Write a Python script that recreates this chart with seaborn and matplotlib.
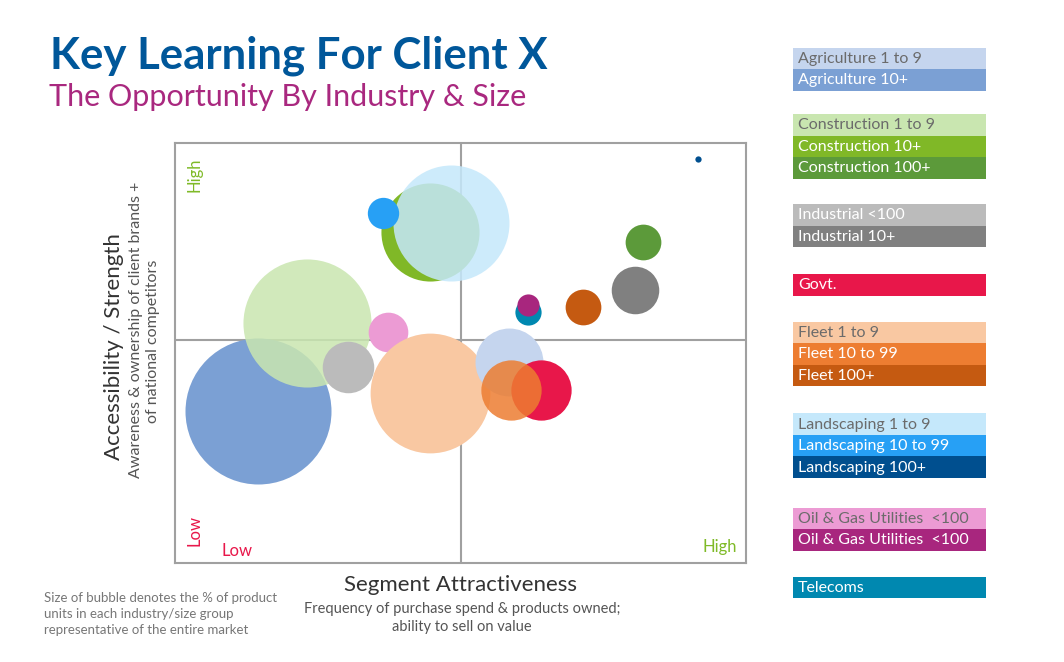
import matplotlib.pyplot as plt
import matplotlib.patches as mpatches
import pandas as pd
import seaborn as sns

# bubbles, listed in drawing order (back to front)
segments = [
    "Agriculture 10+", "Construction 1 to 9", "Industrial <100", "Oil & Gas Utilities <100 (a)",
    "Fleet 1 to 9", "Construction 10+", "Landscaping 1 to 9", "Landscaping 10 to 99",
    "Agriculture 1 to 9", "Govt.", "Fleet 10 to 99", "Construction 100+", "Industrial 10+",
    "Fleet 100+", "Telecoms", "Oil & Gas Utilities <100 (b)", "Landscaping 100+",
]
attractiveness = [1.45, 2.32, 3.03, 3.73, 4.47, 4.47, 4.83, 3.65, 5.85, 6.41, 5.89, 8.20, 8.06, 7.14, 6.18, 6.19, 9.16]
accessibility = [3.61, 5.72, 4.66, 5.51, 4.04, 7.88, 8.09, 8.34, 4.79, 4.11, 4.11, 7.65, 6.50, 6.10, 5.97, 6.14, 9.63]
unit_share = [21.7, 16.7, 2.7, 1.6, 14.6, 9.8, 13.7, 1.0, 4.7, 3.7, 3.7, 1.3, 2.3, 1.3, 0.7, 0.5, 0.04]

# legend (right-hand key), grouped by industry
legend_groups = [
    ["Agriculture 1 to 9", "Agriculture 10+"],
    ["Construction 1 to 9", "Construction 10+", "Construction 100+"],
    ["Industrial <100", "Industrial 10+"],
    ["Govt."],
    ["Fleet 1 to 9", "Fleet 10 to 99", "Fleet 100+"],
    ["Landscaping 1 to 9", "Landscaping 10 to 99", "Landscaping 100+"],
    ["Oil & Gas Utilities  <100", "Oil & Gas Utilities  <100"],
    ["Telecoms"],
]

# styles
seg_colors = {
    "Agriculture 1 to 9": "#C5D5EE", "Agriculture 10+": "#7BA0D4",
    "Construction 1 to 9": "#C9E6B0", "Construction 10+": "#80B827", "Construction 100+": "#5C9A3A",
    "Industrial <100": "#BBBBBB", "Industrial 10+": "#808080",
    "Govt.": "#E8174A",
    "Fleet 1 to 9": "#F9C8A2", "Fleet 10 to 99": "#ED7D31", "Fleet 100+": "#C55A11",
    "Landscaping 1 to 9": "#C5E8FB", "Landscaping 10 to 99": "#27A0F5", "Landscaping 100+": "#004F8F",
    "Oil & Gas Utilities <100 (a)": "#EC9BD4", "Oil & Gas Utilities <100 (b)": "#A8267E",
    "Telecoms": "#0088B0",
}
legend_colors = [
    ["#C5D5EE", "#7BA0D4"],
    ["#C9E6B0", "#80B827", "#5C9A3A"],
    ["#BBBBBB", "#808080"],
    ["#E8174A"],
    ["#F9C8A2", "#ED7D31", "#C55A11"],
    ["#C5E8FB", "#27A0F5", "#004F8F"],
    ["#EC9BD4", "#A8267E"],
    ["#0088B0"],
]
light_rows = {"#C5D5EE", "#C9E6B0", "#F9C8A2", "#C5E8FB", "#EC9BD4"}
see_through = {"Construction 1 to 9": 0.85, "Landscaping 1 to 9": 0.85, "Fleet 10 to 99": 0.85}

df = pd.DataFrame({"segment": segments, "x": attractiveness, "y": accessibility, "share": unit_share})

sns.set_style("white")
plt.rcParams["font.family"] = ["Lato", "DejaVu Sans"]

W, H = 1064, 662
fig = plt.figure(figsize=(W / 100, H / 100), dpi=100)

# page overlay in pixel coordinates for all the free text
page = fig.add_axes([0, 0, 1, 1], zorder=0)
page.set_xlim(0, W)
page.set_ylim(H, 0)
page.axis("off")

ax = fig.add_axes([175 / W, 1 - 563 / H, 571 / W, 420 / H], zorder=1)
ax.patch.set_alpha(0)

max_area = (2 * 73 * 0.72) ** 2
for i, row in df.iterrows():
    sns.scatterplot(data=df.iloc[[i]], x="x", y="y", size="share",
                    sizes=(0, max_area), size_norm=(0, max(unit_share)),
                    color=seg_colors[row["segment"]], alpha=see_through.get(row["segment"], 1.0),
                    linewidth=0, legend=False, ax=ax, zorder=3)

ax.set_xlim(0, 10)
ax.set_ylim(0, 10)
ax.axvline(5.01, color="#A0A0A0", lw=1.5, zorder=1)
ax.axhline(5.32, color="#A0A0A0", lw=1.5, zorder=1)
ax.set_xticks([])
ax.set_yticks([])
ax.set_xlabel("")
ax.set_ylabel("")
for s in ax.spines.values():
    s.set_color("#A0A0A0")
    s.set_linewidth(1.5)

# quadrant markers
ax.text(0.035, 0.966, "High", transform=ax.transAxes, rotation=90, color="#7FBA27",
        fontsize=12, ha="center", va="top")
ax.text(0.035, 0.04, "Low", transform=ax.transAxes, rotation=90, color="#E8174A",
        fontsize=12, ha="center", va="bottom")
ax.text(0.082, 0.029, "Low", transform=ax.transAxes, color="#E8174A", fontsize=12, ha="left", va="center")
ax.text(0.984, 0.038, "High", transform=ax.transAxes, color="#7FBA27", fontsize=12, ha="right", va="center")

# titles
page.text(50, 68, "Key Learning For Client X", color="#00579A", fontsize=31.5, fontweight="bold",
          ha="left", va="baseline")
page.text(49, 106, "The Opportunity By Industry & Size", color="#A9287F", fontsize=22,
          ha="left", va="baseline")

# axis titles
page.text(461, 585, "Segment Attractiveness", color="#333333", fontsize=16, ha="center", va="center")
page.text(462, 609, "Frequency of purchase spend & products owned;", color="#555555", fontsize=10.5,
          ha="center", va="center")
page.text(462, 627, "ability to sell on value", color="#555555", fontsize=10.5, ha="center", va="center")
page.text(114, 347, "Accessibility / Strength", color="#333333", fontsize=16, rotation=90,
          ha="center", va="center")
page.text(136, 330, "Awareness & ownership of client brands +", color="#555555", fontsize=11.5,
          rotation=90, ha="center", va="center")
page.text(153, 341, "of national competitors", color="#555555", fontsize=11.5, rotation=90,
          ha="center", va="center")

# bubble size note
for k, line in enumerate(["Size of bubble denotes the % of product", "units in each industry/size group",
                          "representative of the entire market"]):
    page.text(44, 598 + 16 * k, line, color="#777777", fontsize=9.5, ha="left", va="center")

# key on the right
group_tops = [47.5, 114, 204, 274, 321.7, 413.3, 507.7, 576.7]
row_h = 21.5
for top, labels, cols in zip(group_tops, legend_groups, legend_colors):
    for j, (lab, col) in enumerate(zip(labels, cols)):
        y0 = top + j * row_h
        page.add_patch(mpatches.Rectangle((793, y0), 192.5, row_h, facecolor=col, edgecolor="none"))
        page.text(798, y0 + row_h / 2 + 0.5, lab, fontsize=11.5,
                  color="#6B6B6B" if col in light_rows else "white", ha="left", va="center")

fig.savefig("out.png", dpi=100)
